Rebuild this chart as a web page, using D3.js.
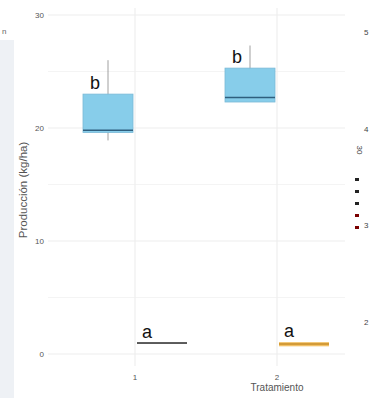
<!DOCTYPE html>
<html>
<head>
<meta charset="utf-8">
<script src="https://cdn.jsdelivr.net/npm/d3@7"></script>
<style>
  body { margin: 0; background: #fff; }
  svg text { font-family: "Liberation Sans", Arial, sans-serif; }
</style>
</head>
<body>
<svg id="chart" width="371" height="398"></svg>
<script>
// Treatments on the x axis
const treatments = ["1", "2"];
// Yield boxplots (kg/ha): whisker low, Q1, median, Q3, whisker high
const yieldLow = [18.9, 22.3];
const yieldQ1 = [19.6, 22.3];
const yieldMedian = [19.8, 22.7];
const yieldQ3 = [23.0, 25.3];
const yieldHigh = [26.0, 27.3];
// Second variable, nearly flat boxes
const secondQ1 = [0.95, 0.68];
const secondMedian = [0.97, 0.88];
const secondQ3 = [0.99, 1.05];
// Letters from the mean comparison
const yieldLetters = ["b", "b"];
const secondLetters = ["a", "a"];
// Axis ticks
const leftTicks = [0, 10, 20, 30];
const minorTicks = [5, 15, 25];
const rightTicks = [2, 3, 4, 5];

const svg = d3.select("#chart");

// Side strip on the left edge
svg.append("rect").attr("x", 0).attr("y", 40).attr("width", 14).attr("height", 358)
  .attr("fill", "#eef1f5");
svg.append("text").attr("x", 2).attr("y", 34).attr("font-size", 8).attr("fill", "#666").text("n");

const y = d3.scaleLinear().domain([0, 30]).range([354, 15]);
const x = d3.scalePoint().domain(treatments).range([135, 277]);
const dodge = 27, boxW = 50;
const panel = { left: 48, right: 345, top: 8, bottom: 366 };

// Grid
const grid = svg.append("g");
grid.selectAll("line.minor").data(minorTicks).join("line")
  .attr("x1", panel.left).attr("x2", panel.right)
  .attr("y1", d => y(d)).attr("y2", d => y(d))
  .attr("stroke", "#f4f4f4").attr("stroke-width", 1);
grid.selectAll("line.major").data(leftTicks).join("line")
  .attr("x1", panel.left).attr("x2", panel.right)
  .attr("y1", d => y(d)).attr("y2", d => y(d))
  .attr("stroke", "#eeeeee").attr("stroke-width", 1.2);
grid.selectAll("line.vert").data(treatments).join("line")
  .attr("x1", d => x(d)).attr("x2", d => x(d))
  .attr("y1", panel.top).attr("y2", panel.bottom)
  .attr("stroke", "#eeeeee").attr("stroke-width", 1.2);

// Left axis
const leftAxis = svg.append("g").attr("transform", `translate(${panel.left},0)`)
  .call(d3.axisLeft(y).tickValues(leftTicks).tickSize(0).tickPadding(4));
leftAxis.select(".domain").remove();
leftAxis.selectAll("text").attr("font-size", 8).attr("fill", "#555");

// Right axis
const yR = d3.scaleLinear().domain([2, 5]).range([322, 32]);
const rightAxis = svg.append("g").attr("transform", `translate(${panel.right + 15},0)`)
  .call(d3.axisRight(yR).tickValues(rightTicks).tickFormat(d3.format("d")).tickSize(0).tickPadding(4));
rightAxis.select(".domain").remove();
rightAxis.selectAll("text").attr("font-size", 8).attr("fill", "#444");

// Right-side key
const key = svg.append("g").attr("transform", "translate(357,150)");
key.append("text").attr("transform", "rotate(90)").attr("x", 0).attr("y", 0)
  .attr("font-size", 8).attr("fill", "#333").attr("text-anchor", "middle").text("30");
const keyColors = ["#222", "#222", "#222", "#7a0000", "#7a0000"];
key.selectAll("rect").data(keyColors).join("rect")
  .attr("x", -2).attr("y", (d, i) => 28 + i * 12).attr("width", 4).attr("height", 3)
  .attr("fill", d => d);

// Axis titles
svg.append("text").attr("transform", "translate(27,190) rotate(-90)")
  .attr("text-anchor", "middle").attr("font-size", 11.5).attr("fill", "#555")
  .text("Producción (kg/ha)");
svg.append("text").attr("x", x("2")).attr("y", 391).attr("text-anchor", "middle")
  .attr("font-size", 10).attr("fill", "#555").text("Tratamiento");

// X tick labels
svg.selectAll("text.xt").data(treatments).join("text")
  .attr("x", d => x(d)).attr("y", 380).attr("text-anchor", "middle")
  .attr("font-size", 8).attr("fill", "#555").text(d => d);

// Yield boxes (dodged left)
const g1 = svg.append("g");
treatments.forEach((t, i) => {
  const cx = x(t) - dodge;
  g1.append("line").attr("x1", cx).attr("x2", cx)
    .attr("y1", y(yieldHigh[i])).attr("y2", y(yieldLow[i]))
    .attr("stroke", "#888").attr("stroke-width", 0.8);
  g1.append("rect").attr("x", cx - boxW / 2).attr("width", boxW)
    .attr("y", y(yieldQ3[i])).attr("height", y(yieldQ1[i]) - y(yieldQ3[i]))
    .attr("fill", "#87cdea").attr("stroke", "#7bb9d6").attr("stroke-width", 0.8);
  g1.append("line").attr("x1", cx - boxW / 2).attr("x2", cx + boxW / 2)
    .attr("y1", y(yieldMedian[i])).attr("y2", y(yieldMedian[i]))
    .attr("stroke", "#2f5f7e").attr("stroke-width", 1.6);
  g1.append("text").attr("x", cx - 13).attr("y", y(yieldQ3[i]) - 5)
    .attr("text-anchor", "middle").attr("font-size", 18).attr("fill", "#111")
    .text(yieldLetters[i]);
});

// Second variable boxes (dodged right)
const secondFill = ["#444", "#f0b54a"];
const secondLine = ["#333", "#c98f2a"];
const g2 = svg.append("g");
treatments.forEach((t, i) => {
  const cx = x(t) + dodge;
  g2.append("rect").attr("x", cx - boxW / 2).attr("width", boxW)
    .attr("y", y(secondQ3[i])).attr("height", Math.max(0.5, y(secondQ1[i]) - y(secondQ3[i])))
    .attr("fill", secondFill[i]).attr("opacity", 0.85);
  g2.append("line").attr("x1", cx - boxW / 2).attr("x2", cx + boxW / 2)
    .attr("y1", y(secondMedian[i])).attr("y2", y(secondMedian[i]))
    .attr("stroke", secondLine[i]).attr("stroke-width", 1.4);
  g2.append("text").attr("x", cx - 15).attr("y", y(secondQ3[i]) - 5)
    .attr("text-anchor", "middle").attr("font-size", 18).attr("fill", "#111")
    .text(secondLetters[i]);
});
</script>
</body>
</html>
